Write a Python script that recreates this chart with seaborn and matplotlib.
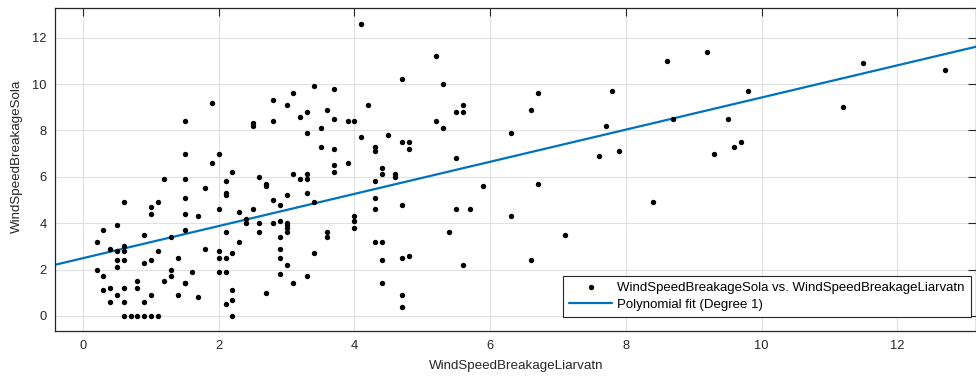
import numpy as np
import pandas as pd
import matplotlib
matplotlib.use("Agg")
import matplotlib.pyplot as plt
import seaborn as sns

# Breakage wind speeds (m/s) at the two stations
liarvatn = [
    0.2, 0.2, 0.3, 0.3, 0.3, 0.4, 0.4, 0.4, 0.5, 0.5, 0.5, 0.5, 0.5,
    0.6, 0.6, 0.6, 0.6, 0.6, 0.6, 0.6, 0.7, 0.8, 0.8, 0.8, 0.9, 0.9, 0.9, 0.9,
    1.0, 1.0, 1.0, 1.0, 1.0, 1.1, 1.1, 1.1, 1.2, 1.2, 1.3, 1.3, 1.3, 1.4, 1.4,
    1.5, 1.5, 1.5, 1.5, 1.5, 1.5, 1.5, 1.5, 1.6, 1.7, 1.7, 1.8, 1.8, 1.9, 1.9,
    2.0, 2.0, 2.0, 2.0, 2.0, 2.1, 2.1, 2.1, 2.1, 2.1, 2.1, 2.1, 2.2, 2.2, 2.2,
    2.2, 2.2, 2.3, 2.3, 2.4, 2.4, 2.5, 2.5, 2.5, 2.6, 2.6, 2.6, 2.7, 2.7, 2.7,
    2.8, 2.8, 2.8, 2.8, 2.9, 2.9, 2.9, 2.9, 2.9, 2.9, 3.0, 3.0, 3.0, 3.0, 3.0,
    3.0, 3.0, 3.1, 3.1, 3.1, 3.2, 3.2, 3.3, 3.3, 3.3, 3.3, 3.3, 3.3, 3.4, 3.4,
    3.4, 3.5, 3.5, 3.6, 3.6, 3.6, 3.7, 3.7, 3.7, 3.7, 3.7, 3.9, 3.9, 4.0, 4.0,
    4.0, 4.0, 4.1, 4.1, 4.2, 4.3, 4.3, 4.3, 4.3, 4.3, 4.3, 4.4, 4.4, 4.4, 4.4,
    4.4, 4.5, 4.6, 4.6, 4.7, 4.7, 4.7, 4.7, 4.7, 4.7, 4.8, 4.8, 4.8, 5.2, 5.2,
    5.3, 5.3, 5.4, 5.5, 5.5, 5.5, 5.6, 5.6, 5.6, 5.7, 5.9, 6.3, 6.3, 6.6, 6.6,
    6.7, 6.7, 7.1, 7.6, 7.7, 7.8, 7.9, 8.4, 8.6, 8.7, 9.2, 9.3, 9.5, 9.6, 9.7,
    9.8, 11.2, 11.5, 12.7,
]
sola = [
    3.2, 2.0, 3.7, 1.7, 1.1, 2.9, 1.2, 0.6, 3.9, 2.8, 2.4, 2.1, 0.9,
    4.9, 3.0, 2.8, 2.4, 1.2, 0.6, 0.0, 0.0, 1.5, 1.2, 0.0, 3.5, 2.3, 0.6, 0.0,
    4.7, 4.4, 2.4, 0.9, 0.0, 4.9, 2.8, 0.0, 5.9, 1.5, 3.4, 2.0, 1.7, 2.5, 0.9,
    8.4, 7.0, 5.9, 5.1, 4.4, 3.7, 1.4, 1.4, 1.9, 4.3, 0.8, 5.5, 2.9, 9.2, 6.6,
    7.0, 4.6, 2.8, 2.5, 1.9, 5.8, 5.3, 5.2, 3.6, 2.5, 1.9, 0.5, 6.2, 2.7, 1.1,
    0.7, 0.0, 4.5, 3.2, 4.2, 4.0, 8.3, 8.2, 4.6, 6.0, 4.0, 3.6, 5.7, 5.6, 1.0,
    9.3, 8.4, 5.0, 4.0, 4.8, 4.1, 3.4, 2.9, 2.5, 1.8, 9.1, 5.2, 4.0, 3.9, 3.8,
    3.6, 2.2, 9.6, 6.1, 1.4, 8.6, 5.9, 8.8, 7.9, 6.1, 5.9, 5.3, 1.7, 9.9, 4.9,
    2.7, 8.1, 7.3, 8.9, 3.6, 3.4, 9.8, 8.5, 7.2, 6.5, 6.2, 8.4, 6.6, 8.4, 4.3,
    4.1, 3.8, 12.6, 7.7, 9.1, 7.3, 7.1, 5.8, 5.1, 4.6, 3.2, 6.4, 6.1, 3.2, 2.4,
    1.4, 7.8, 6.1, 6.0, 10.2, 7.5, 4.8, 2.5, 0.9, 0.4, 7.5, 7.2, 2.6, 11.2, 8.4,
    10.0, 8.1, 3.6, 8.8, 6.8, 4.6, 9.1, 8.8, 2.2, 4.6, 5.6, 7.9, 4.3, 8.9, 2.4,
    9.6, 5.7, 3.5, 6.9, 8.2, 9.7, 7.1, 4.9, 11.0, 8.5, 11.4, 7.0, 8.5, 7.3, 7.5,
    9.7, 9.0, 10.9, 10.6,
]

# Degree-1 polynomial fit coefficients [slope, intercept]
fit_coef = [0.693, 2.49]

x_ticks = [0, 2, 4, 6, 8, 10, 12]
y_ticks = [0, 2, 4, 6, 8, 10, 12]

X_NAME = "WindSpeedBreakageLiarvatn"
Y_NAME = "WindSpeedBreakageSola"

sns.set_style("whitegrid")
plt.rcParams["font.family"] = ["Liberation Sans", "DejaVu Sans"]

INK = "#262626"
FIT_BLUE = "#0072BD"

df = pd.DataFrame({X_NAME: liarvatn, Y_NAME: sola})

W, H = 976, 379
fig = plt.figure(figsize=(W / 100, H / 100), dpi=100)
left_px, right_px, top_px, bottom_px = 54.5, 976.0, 8.0, 330.5
ax = fig.add_axes([left_px / W, 1 - bottom_px / H,
                   (right_px - left_px) / W, (bottom_px - top_px) / H])

xlim = (-0.42, 13.16)
ylim = (-0.63, 13.28)

# Fit line drawn across the full x range of the axes
x_fit = np.linspace(xlim[0], xlim[1], 100)
fit_df = pd.DataFrame({"x": x_fit, "y": np.polyval(fit_coef, x_fit)})

sns.scatterplot(data=df, x=X_NAME, y=Y_NAME, ax=ax, color="black", s=15,
                linewidth=0, zorder=3,
                label=f"{Y_NAME} vs. {X_NAME}")
sns.lineplot(data=fit_df, x="x", y="y", ax=ax, color=FIT_BLUE, linewidth=1.6,
             zorder=2, label="Polynomial fit (Degree 1)")

ax.set_xlim(*xlim)
ax.set_ylim(*ylim)
ax.set_xticks(x_ticks)
ax.set_yticks(y_ticks)

ax.grid(True, color="#e1e1e1", linewidth=0.8)
ax.set_axisbelow(True)
for side in ["left", "right", "top", "bottom"]:
    ax.spines[side].set_visible(True)
    ax.spines[side].set_color(INK)
    ax.spines[side].set_linewidth(0.9)

ax.tick_params(axis="both", which="major", direction="in", length=6, width=0.8,
               color=INK, labelcolor=INK, labelsize=9.3, top=True, right=True)
ax.tick_params(axis="x", pad=7)
ax.tick_params(axis="y", pad=5.5)

ax.set_xlabel(X_NAME, fontsize=9.6, color=INK, va="center")
ax.set_ylabel(Y_NAME, fontsize=9.6, color=INK, va="center")
ax_w = right_px - left_px
ax_h = bottom_px - top_px
ax.xaxis.set_label_coords((516 - left_px) / ax_w, (bottom_px - 366) / ax_h)
ax.yaxis.set_label_coords((17 - left_px) / ax_w, (bottom_px - 156) / ax_h)

leg = ax.legend(loc="lower right",
                bbox_to_anchor=((970.5 - left_px) / ax_w, (bottom_px - 316.7) / ax_h),
                borderaxespad=0, fontsize=9.5, frameon=True, fancybox=False,
                framealpha=1, edgecolor=INK, handlelength=3.3,
                handletextpad=0.35, labelspacing=0.35, borderpad=0.45,
                markerscale=1.0)
leg.get_frame().set_linewidth(0.8)
for txt in leg.get_texts():
    txt.set_color("black")

fig.savefig("out.png", dpi=100)
